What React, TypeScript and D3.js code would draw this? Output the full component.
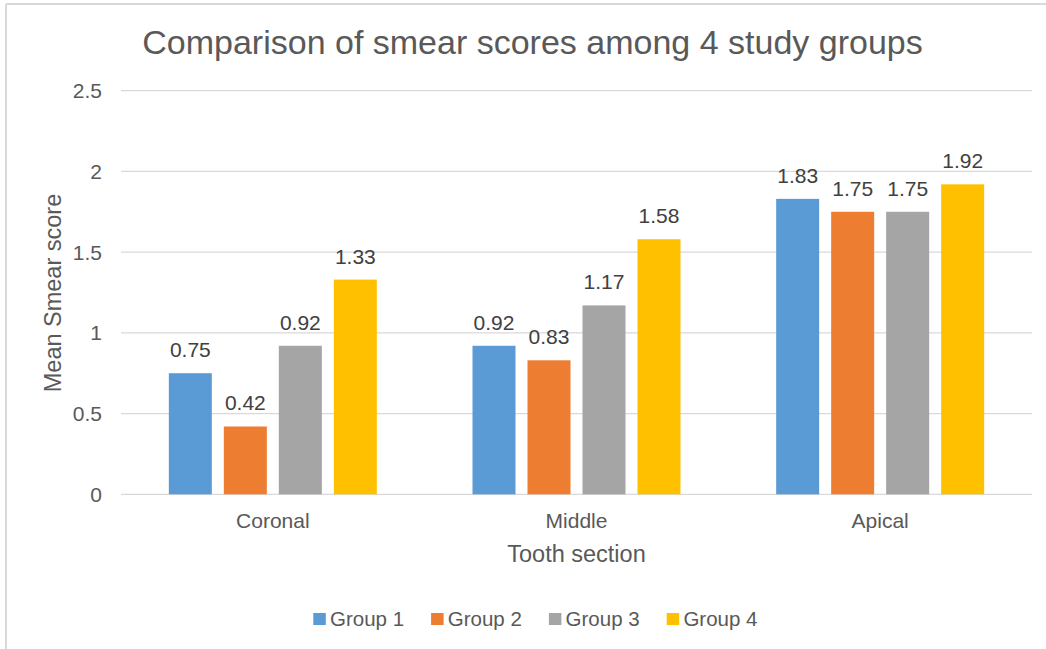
import React, { useEffect, useRef } from "react";
import * as d3 from "d3";

const categories = ["Coronal", "Middle", "Apical"];
const groups = ["Group 1", "Group 2", "Group 3", "Group 4"];
const group1 = [0.75, 0.92, 1.83];
const group2 = [0.42, 0.83, 1.75];
const group3 = [0.92, 1.17, 1.75];
const group4 = [1.33, 1.58, 1.92];
const yTicks = [0, 0.5, 1, 1.5, 2, 2.5];

const colors = ["#5B9BD5", "#ED7D31", "#A5A5A5", "#FFC000"];
const FONT = "'Liberation Sans', Arial, sans-serif";
const TEXT = "#595959";

const App = () => {
  const ref = useRef<SVGSVGElement>(null);

  useEffect(() => {
    if (!ref.current) return;
    const svg = d3.select(ref.current);
    svg.selectAll("*").remove();

    const W = 1046;
    const H = 649;
    const left = 121;
    const right = 1032;
    const top = 90.7;
    const bottom = 494.3;

    svg.append("rect").attr("width", W).attr("height", H).attr("fill", "#fff");

    // frame (top and left edges only, the rest is cropped)
    svg.append("line").attr("x1", 6).attr("x2", W).attr("y1", 4).attr("y2", 4)
      .attr("stroke", "#d9d9d9").attr("stroke-width", 2);
    svg.append("line").attr("x1", 6).attr("x2", 6).attr("y1", 4).attr("y2", H)
      .attr("stroke", "#d9d9d9").attr("stroke-width", 2);

    const series = [group1, group2, group3, group4];

    const x0 = d3.scaleBand().domain(categories).range([left, right]);
    const clusterW = 208;
    const x1 = d3.scaleBand().domain(groups).range([0, clusterW]).paddingInner(12 / 55);
    const y = d3.scaleLinear().domain([0, 2.5]).range([bottom, top]);

    // grid
    svg.append("g")
      .selectAll("line")
      .data(yTicks)
      .join("line")
      .attr("x1", left)
      .attr("x2", right)
      .attr("y1", d => y(d))
      .attr("y2", d => y(d))
      .attr("stroke", "#d9d9d9")
      .attr("stroke-width", 1.3);

    // y tick labels
    svg.append("g")
      .selectAll("text")
      .data(yTicks)
      .join("text")
      .attr("x", 102)
      .attr("y", d => y(d) + 7.5)
      .attr("text-anchor", "end")
      .attr("font-family", FONT)
      .attr("font-size", 21)
      .attr("fill", TEXT)
      .text(d => String(d));

    // bars + labels
    const offset = (x0.bandwidth() - clusterW) / 2;
    categories.forEach((cat, ci) => {
      const g = svg.append("g").attr("transform", `translate(${x0(cat)! + offset},0)`);
      groups.forEach((grp, gi) => {
        const v = series[gi][ci];
        g.append("rect")
          .attr("x", x1(grp)!)
          .attr("y", y(v))
          .attr("width", x1.bandwidth())
          .attr("height", y(0) - y(v))
          .attr("fill", colors[gi]);
        g.append("text")
          .attr("x", x1(grp)! + x1.bandwidth() / 2)
          .attr("y", y(v) - 16)
          .attr("text-anchor", "middle")
          .attr("font-family", FONT)
          .attr("font-size", 21)
          .attr("fill", "#404040")
          .text(v.toFixed(2));
      });
    });

    // category labels
    svg.append("g")
      .selectAll("text")
      .data(categories)
      .join("text")
      .attr("x", d => x0(d)! + x0.bandwidth() / 2)
      .attr("y", 528)
      .attr("text-anchor", "middle")
      .attr("font-family", FONT)
      .attr("font-size", 21)
      .attr("fill", TEXT)
      .text(d => d);

    // title
    svg.append("text")
      .attr("x", 532.5)
      .attr("y", 54)
      .attr("text-anchor", "middle")
      .attr("font-family", FONT)
      .attr("font-size", 34)
      .attr("fill", TEXT)
      .text("Comparison of smear scores among 4 study groups");

    // axis titles
    svg.append("text")
      .attr("x", (left + right) / 2)
      .attr("y", 562)
      .attr("text-anchor", "middle")
      .attr("font-family", FONT)
      .attr("font-size", 23.5)
      .attr("fill", TEXT)
      .text("Tooth section");

    svg.append("text")
      .attr("transform", `translate(61,293) rotate(-90)`)
      .attr("text-anchor", "middle")
      .attr("font-family", FONT)
      .attr("font-size", 23.5)
      .attr("fill", TEXT)
      .text("Mean Smear score");

    // legend
    const legend = svg.append("g").attr("transform", "translate(313.3,613)");
    groups.forEach((grp, i) => {
      const item = legend.append("g").attr("transform", `translate(${i * 117.8},0)`);
      item.append("rect").attr("width", 12.5).attr("height", 12).attr("fill", colors[i]);
      item.append("text")
        .attr("x", 16.7)
        .attr("y", 12.5)
        .attr("font-family", FONT)
        .attr("font-size", 20.5)
        .attr("fill", TEXT)
        .text(grp);
    });
  }, []);

  return (
    <div style={{ position: "absolute", left: 0, top: 0 }}>
      <svg ref={ref} width={1046} height={649} style={{ display: "block" }} />
    </div>
  );
};

export default App;
